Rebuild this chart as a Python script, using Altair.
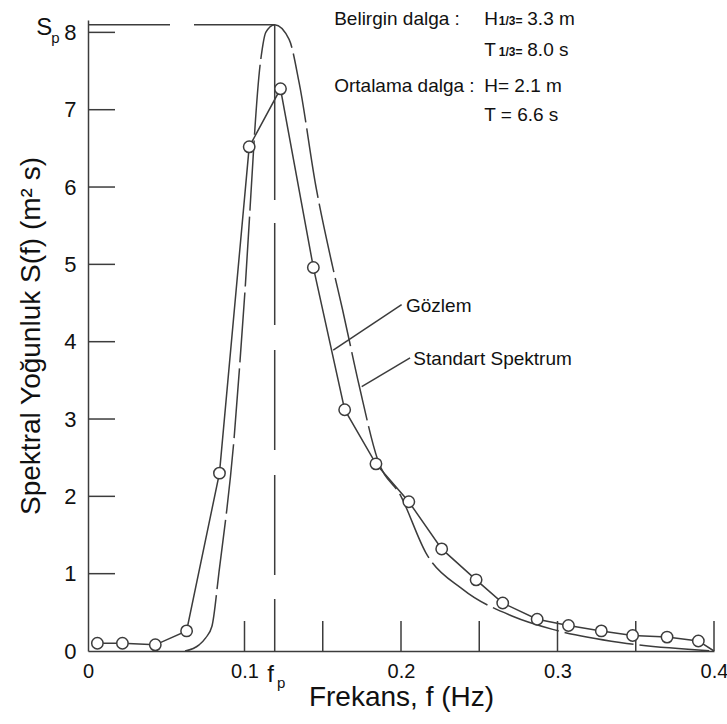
import altair as alt
import pandas as pd

# ---- data ----
obs_f = [0.006, 0.022, 0.043, 0.063, 0.084, 0.103, 0.123, 0.144, 0.164, 0.184,
         0.205, 0.226, 0.248, 0.265, 0.287, 0.307, 0.328, 0.348, 0.370, 0.390]
obs_s = [0.10, 0.10, 0.08, 0.26, 2.30, 6.52, 7.27, 4.96, 3.12, 2.42,
         1.93, 1.32, 0.92, 0.62, 0.41, 0.33, 0.26, 0.20, 0.18, 0.13]
obs_end_f = [0.4]
obs_end_s = [0.0]

std_f = [0.062, 0.071, 0.0752, 0.0792, 0.0837, 0.0933, 0.0997, 0.1104, 0.1136, 0.1193,
         0.1285, 0.1349, 0.1456, 0.1562, 0.1626, 0.1733, 0.185, 0.2, 0.2159, 0.2393,
         0.2713, 0.2969, 0.34, 0.4]
std_s = [0.0, 0.08, 0.17, 0.32, 1.02, 2.74, 4.48, 7.65, 8.0, 8.1,
         7.91, 7.35, 6.01, 4.98, 4.42, 3.43, 2.48, 2.0, 1.27, 0.80,
         0.45, 0.28, 0.11, 0.0]

fp_value = 0.1193
sp_value = 8.1

x_label_values = [0, 0.1, 0.2, 0.3, 0.4]
x_tick_values = [0.1, 0.15, 0.2, 0.25, 0.3, 0.35, 0.4]
y_label_values = [0, 1, 2, 3, 4, 5, 6, 7, 8]
y_tick_values = [1, 2, 3, 4, 5, 6, 7, 8]

info_text = ["Belirgin dalga :", "Ortalama dalga :", "H", "T", "3.3 m", "8.0 s", "H= 2.1 m", "T = 6.6 s"]
info_f = [0.1573, 0.1573, 0.2532, 0.2532, 0.2807, 0.2807, 0.2532, 0.2532]
info_s = [8.10, 7.23, 8.10, 7.70, 8.10, 7.70, 7.23, 6.85]
sub_text = ["1/3=", "1/3="]
sub_f = [0.2625, 0.2625]
sub_s = [8.10, 7.70]

curve_text = ["Gözlem", "Standart Spektrum"]
curve_text_f = [0.2032, 0.2079]
curve_text_s = [4.39, 3.70]
leader_f = [0.1567, 0.1749]
leader_s = [3.89, 3.42]
leader_f2 = [0.2004, 0.2058]
leader_s2 = [4.48, 3.79]

sym_text = ["S", "f"]
sym_f = [-0.0330, 0.1145]
sym_s = [7.97, -0.40]
symsub_text = ["p", "p"]
symsub_f = [-0.0235, 0.1208]
symsub_s = [7.86, -0.48]

# ---- styling ----
LC = "#3c3c3c"
TXT = "#111111"
FONT = "Liberation Sans, Arial, sans-serif"
W, H = 626, 631

xs = alt.Scale(domain=[0, 0.4], nice=False, zero=False)
ys = alt.Scale(domain=[0, 8.16], nice=False, zero=False)

ax_x = alt.Axis(
    values=x_label_values, ticks=False, grid=False,
    labelExpr="datum.value == 0 ? '0' : format(datum.value, '.1f')",
    labelFont=FONT, labelFontSize=20, labelColor=TXT, labelPadding=10,
    labelFlush=False, labelOverlap=False,
    domainColor=LC, domainWidth=1.5,
    title="Frekans, f (Hz)", titleFont=FONT, titleFontSize=28,
    titleFontWeight="normal", titleColor=TXT, titlePadding=2)
ax_y = alt.Axis(
    values=y_label_values, ticks=False, grid=False,
    labelFont=FONT, labelFontSize=22, labelColor=TXT, labelPadding=12,
    labelFlush=False, labelOverlap=False,
    domainColor=LC, domainWidth=1.5,
    title="Spektral Yoğunluk S(f) (m² s)", titleFont=FONT, titleFontSize=28,
    titleFontWeight="normal", titleColor=TXT, titlePadding=18)


def X(field):
    return alt.X(field, scale=xs, axis=ax_x)


def Y(field):
    return alt.Y(field, scale=ys, axis=ax_y)


obs_df = pd.DataFrame({"f": obs_f, "s": obs_s})
obs_line_df = pd.DataFrame({"f": obs_f + obs_end_f, "s": obs_s + obs_end_s})
std_df = pd.DataFrame({"f": std_f, "s": std_s})

base_line = alt.Chart(obs_line_df).mark_line(color=LC, strokeWidth=1.5).encode(
    x=X("f:Q"), y=Y("s:Q"))

obs_pts = alt.Chart(obs_df).mark_point(
    shape="circle", filled=True, fill="white", stroke=LC, strokeWidth=1.5,
    size=130, opacity=1).encode(x=X("f:Q"), y=Y("s:Q"))

std_line = alt.Chart(std_df).mark_line(
    color=LC, strokeWidth=1.5, strokeDash=[70, 6], interpolate="monotone").encode(
    x=X("f:Q"), y=Y("s:Q"))

xticks = alt.Chart(pd.DataFrame({"f": x_tick_values})).mark_rule(
    color=LC, strokeWidth=1.5).encode(
    x=X("f:Q"), y=alt.value(H), y2=alt.value(H - 30))

yticks = alt.Chart(pd.DataFrame({"s": y_tick_values})).mark_rule(
    color=LC, strokeWidth=1.5).encode(
    y=Y("s:Q"), x=alt.value(0), x2=alt.value(27))

fp_rule = alt.Chart(pd.DataFrame({"f": [fp_value], "s": [0.0], "s1": [sp_value]})).mark_rule(
    color=LC, strokeWidth=1.5, strokeDash=[52, 24, 100, 25, 100, 25, 102, 23, 300]).encode(
    x=X("f:Q"), y=Y("s:Q"), y2="s1:Q")

sp_rule = alt.Chart(pd.DataFrame({"f": [0.0], "f1": [fp_value], "s": [sp_value]})).mark_rule(
    color=LC, strokeWidth=1.5, strokeDash=[82, 24, 300]).encode(
    x=X("f:Q"), x2="f1:Q", y=Y("s:Q"))

leaders = alt.Chart(pd.DataFrame({"f": leader_f, "s": leader_s, "f2": leader_f2, "s2": leader_s2})).mark_rule(
    color=LC, strokeWidth=1.5).encode(
    x=X("f:Q"), y=Y("s:Q"), x2="f2:Q", y2="s2:Q")


def text_layer(texts, fs, ss, size, weight="normal"):
    df = pd.DataFrame({"f": fs, "s": ss, "t": texts})
    return alt.Chart(df).mark_text(
        align="left", baseline="alphabetic", font=FONT, fontSize=size,
        fontWeight=weight, color=TXT).encode(
        x=X("f:Q"), y=Y("s:Q"), text="t:N")


info = text_layer(info_text, info_f, info_s, 19)
subs = text_layer(sub_text, sub_f, sub_s, 12, "bold")
curve_lbl = text_layer(curve_text, curve_text_f, curve_text_s, 19)
syms = text_layer(sym_text, sym_f, sym_s, 24)
symsubs = text_layer(symsub_text, symsub_f, symsub_s, 15)

chart = alt.layer(
    base_line, std_line, xticks, yticks, fp_rule, sp_rule, leaders, obs_pts,
    info, subs, curve_lbl, syms, symsubs
).properties(
    width=W, height=H, autosize="none",
    padding={"left": 88, "top": 20, "right": 13, "bottom": 73},
    background="white",
).configure_view(stroke=None)

chart.save("out.html", embed_options={"renderer": "svg", "actions": False})
